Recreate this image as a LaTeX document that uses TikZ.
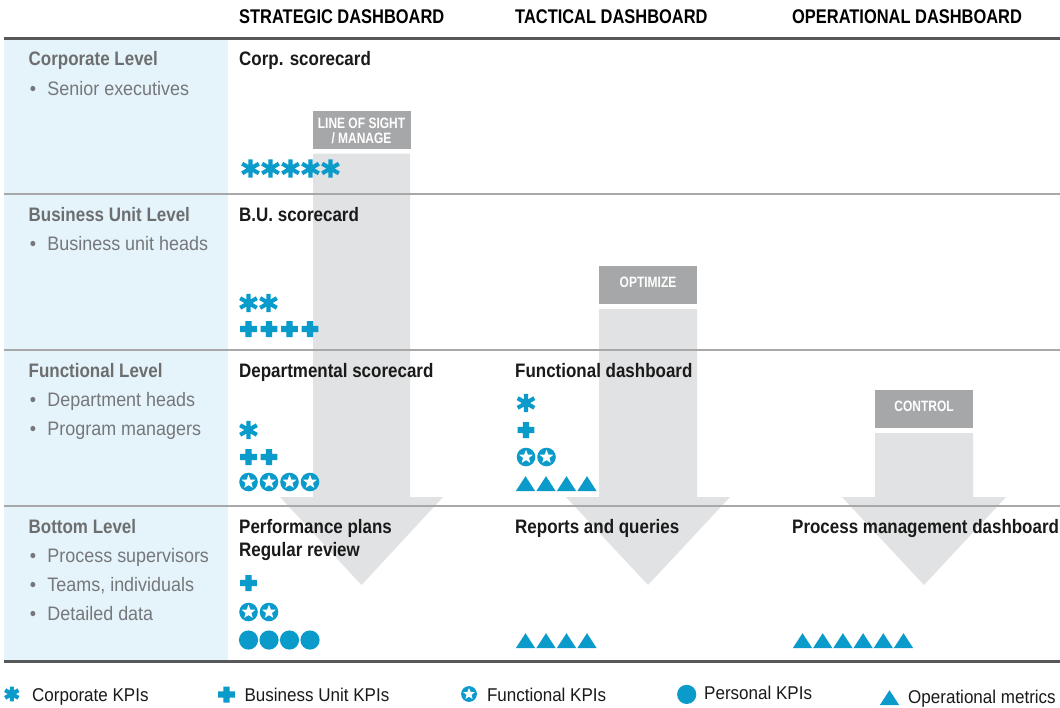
\documentclass[tikz,border=0pt]{standalone}
\usepackage{fontspec}
\setmainfont{Liberation Sans}[FakeStretch=0.92]
\newfontfamily\rgfont{Liberation Sans}[FakeStretch=0.92]
\newfontfamily\bdfont{Liberation Sans}[FakeStretch=0.87]
\newfontfamily\hdfont{Liberation Sans}[FakeStretch=0.83]
\newfontfamily\bxfont{Liberation Sans}[FakeStretch=0.80]
\definecolor{kpi}{HTML}{0A9BCB}
\definecolor{lblue}{HTML}{E4F4FA}
\definecolor{agray}{HTML}{E1E2E3}
\definecolor{bgray}{HTML}{A6A7A9}
\definecolor{lgray}{HTML}{6D6E70}
\definecolor{igray}{HTML}{76777A}
\definecolor{sepgray}{HTML}{A8A8A8}
\definecolor{dkline}{HTML}{58585A}
\definecolor{txt}{HTML}{1A1A1A}
\newcommand{\bl}{\textbullet\hspace{11.4pt}}
\tikzset{
  hdr/.style={anchor=base west, inner sep=0pt, text=black, font=\hdfont\bfseries\fontsize{19.8}{22}\selectfont},
  lvl/.style={anchor=base west, inner sep=0pt, text=lgray, font=\bdfont\bfseries\fontsize{19.5}{22}\selectfont},
  itm/.style={anchor=base west, inner sep=0pt, text=igray, font=\rgfont\fontsize{19.5}{22}\selectfont},
  ctx/.style={anchor=base west, inner sep=0pt, text=txt, font=\bdfont\bfseries\fontsize{19.5}{22}\selectfont},
  lgd/.style={anchor=base west, inner sep=0pt, text=txt, font=\rgfont\fontsize{18.5}{22}\selectfont},
  boxlbl/.style={fill=bgray, inner sep=0pt, minimum width=98pt, minimum height=38pt},
  boxtxt/.style={anchor=base, inner sep=0pt, text=white, font=\bxfont\bfseries\fontsize{15}{15}\selectfont},
  arrowbody/.style={fill=agray},
  sepline/.style={draw=sepgray, line width=2pt},
  frameline/.style={draw=dkline, line width=3pt},
  pics/ast/.style={code={\draw[kpi,line width=4.1pt] (0,-9.2pt)--(0,9.2pt) (-30:9.6pt)--(150:9.6pt) (30:9.6pt)--(210:9.6pt);}},
  pics/plus/.style={code={\fill[kpi] (-8.4pt,-3.1pt) rectangle (8.4pt,3.1pt) (-3.1pt,-8pt) rectangle (3.1pt,8pt);}},
  pics/fstar/.style={code={\fill[kpi] (0,0) circle[radius=9.3pt];
      \fill[white,x=1pt,y=1pt] (90:7.2) \foreach \i in {1,...,9}{ -- ({90+36*\i}:{ifthenelse(mod(\i,2)==0,7.2,3.1)})} -- cycle;}},
  pics/pdot/.style={code={\fill[kpi] (0,0) circle[radius=9.6pt];}},
  pics/tri/.style={code={\fill[kpi] (-9.6pt,-7pt) -- (9.6pt,-7pt) -- (0,7.8pt) -- cycle;}},
}
\begin{document}
\begin{tikzpicture}[x=1pt,y=-1pt]
\useasboundingbox (0,0) rectangle (1060,707);
\fill[white] (0,0) rectangle (1060,707);
% left column
\fill[lblue] (4,40) rectangle (228,660);
% arrows
\fill[arrowbody] (313,153.5) -- (410,153.5) -- (410,497) -- (443,497) -- (361.5,585) -- (280,497) -- (313,497) -- cycle;
\fill[arrowbody] (599,309) -- (697,309) -- (697,497) -- (730,497) -- (648,585) -- (566,497) -- (599,497) -- cycle;
\fill[arrowbody] (875,433) -- (973,433) -- (973,497) -- (1006,497) -- (924,585) -- (842,497) -- (875,497) -- cycle;
% arrow labels
\node[boxlbl] (b1) at (361.5,130) {};
\node[boxtxt] (b1a) at (361.5,128.3) {LINE OF SIGHT};
\node[boxtxt] (b1b) at (361.5,143.3) {/ MANAGE};
\node[boxlbl] (b2) at (648,284.7) {};
\node[boxtxt] (b2a) at (648,287.7) {OPTIMIZE};
\node[boxlbl] (b3) at (924,409) {};
\node[boxtxt] (b3a) at (924,411) {CONTROL};
% lines
\draw[frameline] (4,38.7) -- (1060,38.7);
\draw[sepline] (4,194) -- (1060,194);
\draw[sepline] (4,350) -- (1060,350);
\draw[sepline] (4,506) -- (1060,506);
\draw[frameline] (4,661.5) -- (1060,661.5);
% headers
\node[hdr] (hS) at (239,23.7) {STRATEGIC DASHBOARD};
\node[hdr] (hT) at (515,23.7) {TACTICAL DASHBOARD};
\node[hdr] (hO) at (792,23.7) {OPERATIONAL DASHBOARD};
% levels
\node[lvl] (l1) at (28.5,65.7) {Corporate Level};
\node[itm] (l1a) at (29.6,95.5) {\bl Senior executives};
\node[lvl] (l2) at (28.5,221) {Business Unit Level};
\node[itm] (l2a) at (29.6,250) {\bl Business unit heads};
\node[lvl] (l3) at (28.5,377) {Functional Level};
\node[itm] (l3a) at (29.6,406) {\bl Department heads};
\node[itm] (l3b) at (29.6,435) {\bl Program managers};
\node[lvl] (l4) at (28.5,533) {Bottom Level};
\node[itm] (l4a) at (29.6,562) {\bl Process supervisors};
\node[itm] (l4b) at (29.6,591) {\bl Teams, individuals};
\node[itm] (l4c) at (29.6,620) {\bl Detailed data};
% cell texts
\node[ctx] (c1) at (239,65.7) {Corp. scorecard};
\node[ctx] (c2) at (239,221) {B.U. scorecard};
\node[ctx] (c3) at (239,377) {Departmental scorecard};
\node[ctx] (c4) at (239,533) {Performance plans};
\node[ctx] (c4b) at (239,556) {Regular review};
\node[ctx] (t3) at (515,377) {Functional dashboard};
\node[ctx] (t4) at (515,533) {Reports and queries};
\node[ctx] (o4) at (792,533) {Process management dashboard};
% symbols strategic
\foreach \i in {0,...,4} \pic at (250.5+20*\i,168.5) {ast};
\foreach \i in {0,1} \pic at (248.5+20*\i,303) {ast};
\foreach \i in {0,...,3} \pic at (248.5+20.5*\i,329) {plus};
\pic at (248.5,430) {ast};
\foreach \i in {0,1} \pic at (248.5+20.5*\i,457) {plus};
\foreach \i in {0,...,3} \pic at (248.5+20.5*\i,482) {fstar};
\pic at (248.5,583) {plus};
\foreach \i in {0,1} \pic at (248.5+20.5*\i,612) {fstar};
\foreach \i in {0,...,3} \pic at (248.5+20.5*\i,640) {pdot};
% symbols tactical
\pic at (526,403) {ast};
\pic at (526,430) {plus};
\foreach \i in {0,1} \pic at (526+20.5*\i,457) {fstar};
\foreach \i in {0,...,3} \pic at (525.5+20.5*\i,484) {tri};
\foreach \i in {0,...,3} \pic at (525.5+20.5*\i,641) {tri};
% symbols operational
\foreach \i in {0,...,5} \pic at (802.5+20.2*\i,641) {tri};
% legend
\pic[scale=0.8] at (11.8,694) {ast};
\node[lgd] (g1) at (32,701) {Corporate KPIs};
\pic at (226.5,694.5) {plus};
\node[lgd] (g2) at (244.4,701) {Business Unit KPIs};
\pic[scale=0.85] at (469,694) {fstar};
\node[lgd] (g3) at (486.8,701) {Functional KPIs};
\pic at (686.7,694.4) {pdot};
\node[lgd] (g4) at (704,699) {Personal KPIs};
\pic at (889.5,698) {tri};
\node[lgd] (g5) at (908,703) {Operational metrics};
\end{tikzpicture}
\end{document}
